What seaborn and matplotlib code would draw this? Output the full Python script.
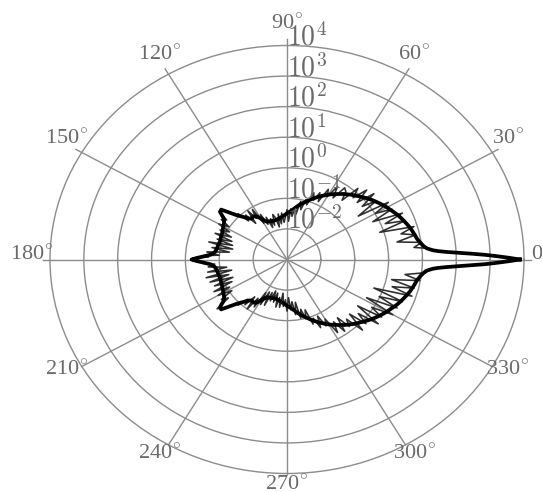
import numpy as np
import pandas as pd
import matplotlib
matplotlib.use("Agg")
import matplotlib.pyplot as plt
import seaborn as sns
from matplotlib.ticker import NullLocator

# ---------------- data (log10 of the quantity) ----------------
angle_deg = [0, 0.5, 1, 1.5, 2, 2.5, 3, 3.5, 4, 5,
             6, 8, 10, 12, 14, 16, 18, 20, 22, 24,
             26, 28, 30, 32, 34, 36, 38, 40, 42, 44,
             46, 48, 50, 52, 54, 56, 58, 60, 62, 64,
             66, 68, 70, 72, 74, 76, 78, 80, 82, 84,
             86, 88, 90, 92, 94, 96, 98, 100, 102, 104,
             106, 108, 110, 112, 114, 116, 118, 120, 122, 124,
             126, 128, 130, 132, 134, 136, 138, 140, 142, 144,
             146, 148, 150, 152, 154, 156, 158, 160, 162, 164,
             166, 168, 170, 172, 174, 176, 177, 178, 179, 180]

# smooth pattern (thick black line), upper half; the lower half mirrors it
smooth_log = [3.88, 3.55, 3.20, 2.85, 2.45, 2.05, 1.72, 1.48, 1.32, 1.15,
              1.07, 0.97, 0.90, 0.86, 0.82, 0.78, 0.73, 0.68, 0.63, 0.58,
              0.52, 0.46, 0.41, 0.35, 0.29, 0.23, 0.17, 0.10, 0.04, -0.03,
              -0.09, -0.15, -0.22, -0.28, -0.35, -0.42, -0.48, -0.55, -0.62, -0.69,
              -0.76, -0.83, -0.90, -0.97, -1.04, -1.10, -1.16, -1.23, -1.30, -1.36,
              -1.41, -1.45, -1.49, -1.53, -1.56, -1.59, -1.62, -1.64, -1.66, -1.67,
              -1.67, -1.67, -1.66, -1.65, -1.64, -1.62, -1.55, -1.45, -1.35, -1.29,
              -1.28, -1.30, -1.25, -1.15, -1.04, -0.90, -0.70, -0.46, -0.50, -0.68,
              -0.76, -0.80, -0.83, -0.86, -0.88, -0.90, -0.91, -0.92, -0.93, -0.93,
              -0.92, -0.91, -0.90, -0.88, -0.84, -0.74, -0.62, -0.48, -0.32, -0.18]

# deviation of the raw (noisy) curve from the smooth one, upper half 0..180 deg
noise_upper = [0, 0, 0, 0, 0, 0, 0, 0.03, -0.05, 0.04,
               -0.30, 0.05, -0.60, 0.02, -0.35, 0.12, -0.85, 0.04, -0.50, 0.15,
               -0.70, 0.05, -0.40, 0.18, -0.75, 0.02, -0.35, 0.25, -0.25, 0.30,
               -0.10, 0.28, -0.25, 0.10, 0.25, -0.15, 0.30, -0.08, 0.22, -0.20,
               0.15, -0.08, 0.22, -0.15, 0.08, -0.22, 0.10, -0.28, 0.05, -0.22,
               0.08, -0.30, 0.12, -0.08, -0.22, 0.12, -0.20, 0.15, -0.25, 0.08,
               0.20, -0.15, 0.08, -0.22, 0.15, -0.10, 0.22, -0.18, 0.28, -0.08,
               0.25, -0.20, 0.15, -0.15, 0.12, -0.08, 0.08, -0.05, 0.06, -0.12,
               0.10, -0.18, 0.15, -0.22, 0.08, -0.30, 0.20, -0.35, 0.10, -0.40,
               0.30, -0.45, 0.15, -0.40, 0.22, -0.25, 0.08, -0.20, 0.04, 0]

# deviation for the lower half, listed at 360 - angle_deg
noise_lower = [0, 0, 0, 0, 0, 0, 0, -0.03, 0.04, -0.06,
               0.05, -0.45, 0.08, -0.70, 0.05, -0.55, 0.15, -0.95, 0.05, -0.60,
               0.10, -0.80, 0.20, -0.40, 0.08, -0.65, 0.25, -0.35, 0.10, -0.40,
               0.30, -0.22, 0.08, -0.30, 0.25, -0.12, 0.30, -0.20, 0.08, -0.25,
               0.20, -0.10, 0.15, -0.30, 0.06, -0.22, 0.12, -0.35, 0.12, -0.25,
               0.06, -0.30, 0.18, -0.15, 0.10, -0.30, 0.20, -0.10, 0.25, -0.20,
               0.12, -0.25, 0.10, -0.18, 0.28, -0.20, 0.22, -0.30, 0.18, -0.18,
               0.28, -0.15, 0.18, -0.10, 0.12, -0.06, 0.06, -0.08, 0.12, -0.18,
               0.10, -0.28, 0.18, -0.22, 0.28, -0.32, 0.22, -0.38, 0.32, -0.28,
               0.38, -0.42, 0.28, -0.32, 0.18, -0.12, 0.08, -0.05, 0.02, 0]

radial_exponents = [-2, -1, 0, 1, 2, 3, 4]
theta_labels = [0, 30, 60, 90, 120, 150, 180, 210, 240, 270, 300, 330]

# ---------------- assemble full circle ----------------
ang_full = angle_deg + [360 - a for a in angle_deg[::-1]][1:]
smooth_full = smooth_log + smooth_log[::-1][1:]
noise_full = noise_upper + noise_lower[::-1][1:]

df = pd.DataFrame({
    "theta": np.deg2rad(ang_full),
    "smooth": 10.0 ** np.array(smooth_full),
    "raw": 10.0 ** (np.array(smooth_full) + np.array(noise_full)),
})

# ---------------- style ----------------
GRID = "#8c8c8c"
LABEL = "#6a6a6a"

fig = plt.figure(figsize=(5.42, 4.92), dpi=100)
fig.patch.set_facecolor("white")
ax = fig.add_axes([50 / 542, (492 - 473.5) / 492, 474 / 542, 428 / 492],
                  projection="polar")
ax.set_aspect("auto")
ax.set_rscale("log")
ax.set_rlim(1e-3, 1e4)
ax.set_rgrids([1e-2, 1e-1, 1, 10, 100, 1000], labels=[""] * 6)
ax.yaxis.set_minor_locator(NullLocator())
ax.set_xticks([])
ax.tick_params(axis="both", which="both", length=0)
ax.yaxis.grid(True, color=GRID, linewidth=1.0)
ax.spines["polar"].set_color(GRID)
ax.spines["polar"].set_linewidth(1.0)
ax.set_facecolor("white")

# spokes every 30 degrees
for a in range(0, 360, 30):
    end_log = 4.2 if a <= 180 else 4.0
    ax.plot([np.deg2rad(a)] * 2, [1e-3, 10 ** end_log], color=GRID,
            linewidth=1.0, clip_on=False, zorder=1)

# raw noisy curve then smooth curve
sns.lineplot(data=df, x="theta", y="raw", sort=False, estimator=None,
             color="#2e2e2e", linewidth=1.15, ax=ax, zorder=2)
sns.lineplot(data=df, x="theta", y="smooth", sort=False, estimator=None,
             color="black", linewidth=2.7, ax=ax, zorder=3)
ax.set_xlabel("")
ax.set_ylabel("")

# radial labels along 90 deg
for k in radial_exponents:
    ax.text(np.pi / 2, 10.0 ** k, r"$10^{%d}$" % k, ha="left", va="baseline",
            fontsize=20, math_fontfamily="cm", color=LABEL, zorder=5,
            clip_on=False)

# angle labels
r_lab = 10 ** (7.53 - 3)
for a in theta_labels:
    ax.text(np.deg2rad(a), r_lab, str(a) + r"$^{\circ}$", ha="center",
            va="baseline", fontsize=16, family="Liberation Serif",
            math_fontfamily="cm", color=LABEL, clip_on=False)

fig.savefig("out.png", dpi=100, facecolor="white")
